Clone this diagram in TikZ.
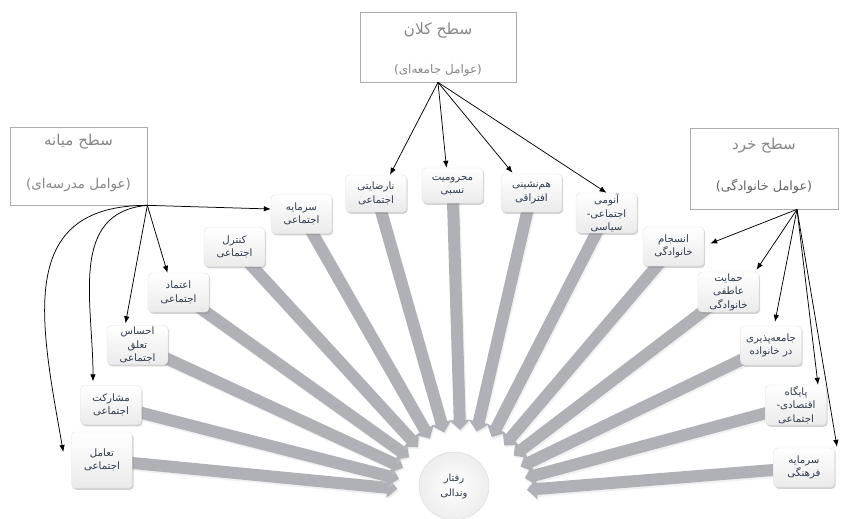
\documentclass[tikz,border=0pt]{standalone}
\usepackage{fontspec}
\newfontfamily\ar[Script=Arabic]{DejaVu Sans}
\TeXXeTstate=1
\usetikzlibrary{shapes.geometric,shadows,arrows.meta,calc}
\pgfdeclarelayer{bg}
\pgfdeclarelayer{bandlayer}
\pgfsetlayers{bg,bandlayer,main}
\newcommand\RTLtxt[1]{\beginR #1\endR}
\definecolor{txt}{RGB}{50,60,78}
\definecolor{lvl}{RGB}{135,135,135}
\definecolor{lvldark}{RGB}{100,100,100}
\definecolor{bandc}{RGB}{176,177,182}
\tikzset{
  factor/.style={rounded corners=4pt, minimum width=61pt, minimum height=39pt,
    inner sep=0pt, align=center, top color=white, bottom color=gray!16,
    draw=gray!22, line width=0.4pt,
    drop shadow={shadow xshift=1.2pt, shadow yshift=-1.8pt, opacity=0.35, fill=gray},
    font=\ar\fontsize{10.2}{13.5}\selectfont, text=txt},
  levelbox/.style={draw=gray!65, fill=white, line width=0.7pt, inner sep=0pt},
  leveltxt/.style={font=\ar, text=lvl, inner sep=0pt},
  band/.style={line width=12pt, draw=bandc, -{Triangle[length=10pt,width=20pt]}},
  bandshadow/.style={line width=12pt, draw=gray!35, opacity=0.3,
    -{Triangle[length=10pt,width=20pt]}, transform canvas={shift={(1.2pt,-2pt)}}},
  conn/.style={draw=black, line width=0.75pt, -{Latex[length=7pt,width=5.5pt]}}
}
\begin{document}
\begin{tikzpicture}[x=1pt,y=-1pt]
\useasboundingbox (0,0) rectangle (843,519);
\begin{pgfonlayer}{bg}
  \fill[white] (0,0) rectangle (843,519);
\end{pgfonlayer}

% level boxes
\node[levelbox, minimum width=156pt, minimum height=70pt] (macro) at (438,47) {};
\node[leveltxt, font=\ar\fontsize{15.5}{17}\selectfont] (macro1) at (438,31) {\RTLtxt{سطح کلان}};
\node[leveltxt, font=\ar\fontsize{12}{14}\selectfont] (macro2) at (438,70) {\RTLtxt{(عوامل جامعه‌ای)}};

\node[levelbox, minimum width=137pt, minimum height=78pt] (meso) at (78.5,166) {};
\node[leveltxt, font=\ar\fontsize{15}{17}\selectfont] (meso1) at (78.5,142) {\RTLtxt{سطح میانه}};
\node[leveltxt, font=\ar\fontsize{13.5}{15}\selectfont] (meso2) at (78.5,185) {\RTLtxt{(عوامل مدرسه‌ای)}};

\node[levelbox, minimum width=148pt, minimum height=81pt] (micro) at (764,168.5) {};
\node[leveltxt, font=\ar\fontsize{15}{17}\selectfont] (micro1) at (764,146) {\RTLtxt{سطح خرد}};
\node[leveltxt, text=lvldark, font=\ar\fontsize{12.8}{15}\selectfont] (micro2) at (764,186) {\RTLtxt{(عوامل خانوادگی)}};

% factor boxes
\node[factor, minimum height=56pt] (f1) at (102,460) {\RTLtxt{تعامل}\\\RTLtxt{اجتماعی}};
\node[factor] (f2) at (111,405) {\RTLtxt{مشارکت}\\\RTLtxt{اجتماعی}};
\node[factor] (f3) at (137.5,345) {\RTLtxt{احساس}\\\RTLtxt{تعلق}\\\RTLtxt{اجتماعی}};
\node[factor] (f4) at (178.5,292.5) {\RTLtxt{اعتماد}\\\RTLtxt{اجتماعی}};
\node[factor] (f5) at (234.5,247) {\RTLtxt{کنترل}\\\RTLtxt{اجتماعی}};
\node[factor] (f6) at (301.5,214) {\RTLtxt{سرمایه}\\\RTLtxt{اجتماعی}};
\node[factor, minimum height=37pt] (f7) at (376,193.5) {\RTLtxt{نارضایتی}\\\RTLtxt{اجتماعی}};
\node[factor, minimum height=35pt] (f8) at (452.5,185.5) {\RTLtxt{محرومیت}\\\RTLtxt{نسبی}};
\node[factor, minimum height=38pt] (f9) at (531.5,193) {\RTLtxt{هم‌نشینی}\\\RTLtxt{افتراقی}};
\node[factor, minimum height=40pt] (f10) at (606.5,213) {\RTLtxt{آنومی}\\-\RTLtxt{اجتماعی}\\\RTLtxt{سیاسی}};
\node[factor] (f11) at (673.5,246.5) {\RTLtxt{انسجام}\\\RTLtxt{خانوادگی}};
\node[factor, minimum height=40pt] (f12) at (728.5,292) {\RTLtxt{حمایت}\\\RTLtxt{عاطفی}\\\RTLtxt{خانوادگی}};
\node[factor] (f13) at (771,345.5) {\RTLtxt{جامعه‌پذیری}\\\RTLtxt{در خانواده}};
\node[factor, minimum height=40pt] (f14) at (796,405) {\RTLtxt{پایگاه}\\-\RTLtxt{اقتصادی}\\\RTLtxt{اجتماعی}};
\node[factor] (f15) at (804,467.5) {\RTLtxt{سرمایه}\\\RTLtxt{فرهنگی}};

% outcome
\node[ellipse, minimum width=70pt, minimum height=68pt, inner sep=0pt, align=center,
  inner color=white, outer color=gray!14, draw=gray!30, line width=0.4pt,
  font=\ar\fontsize{10}{15}\selectfont, text=txt] (out) at (454,486) {\RTLtxt{رفتار}\\\RTLtxt{وندالی}};
\coordinate (fc) at (462,495);

% bands
\begin{pgfonlayer}{bandlayer}
\foreach \n in {f1,f2,f3,f4,f5,f6,f7,f8,f9,f10,f11,f12,f13,f14,f15}{
  \draw[bandshadow] (\n.center) -- ($(fc)!65pt!(\n.center)$);
  \draw[band] (\n.center) -- ($(fc)!65pt!(\n.center)$);
}
\end{pgfonlayer}

% macro connectors
\draw[conn] (macro.south) -- ($(f7.north)+(14,0)$);
\draw[conn] (macro.south) -- ($(f8.north)+(-6,0)$);
\draw[conn] (macro.south) -- ($(f9.north)+(-19,-1)$);
\draw[conn] (macro.south) -- (f10.north);

% meso connectors
\draw[conn] (meso.south east) -- ($(f6.west)+(0,-5)$);
\draw[conn] (meso.south east) -- ($(f4.north)+(-11,0)$);
\draw[conn] (meso.south east) -- ($(f3.north)+(-12,-2)$);
\draw[conn] (meso.south east) to[out=185,in=90,looseness=1.1] ($(f2.north)+(-18,-4)$);
\draw[conn] (meso.south east) to[out=180,in=100,looseness=1.3] ($(f1.west)+(-8,-8)$);

% micro connectors
\coordinate (mo) at ($(micro.south)+(33,0)$);
\draw[conn] (mo) -- ($(f11.east)+(6,-3)$);
\draw[conn] (mo) -- ($(f12.north)+(28,-2)$);
\draw[conn] (mo) -- ($(f13.north)+(4,-4)$);
\draw[conn] (mo) -- ($(f14.north)+(22,0)$);
\draw[conn] (mo) -- ($(f15.north)+(33,-1)$);
\end{tikzpicture}
\end{document}
